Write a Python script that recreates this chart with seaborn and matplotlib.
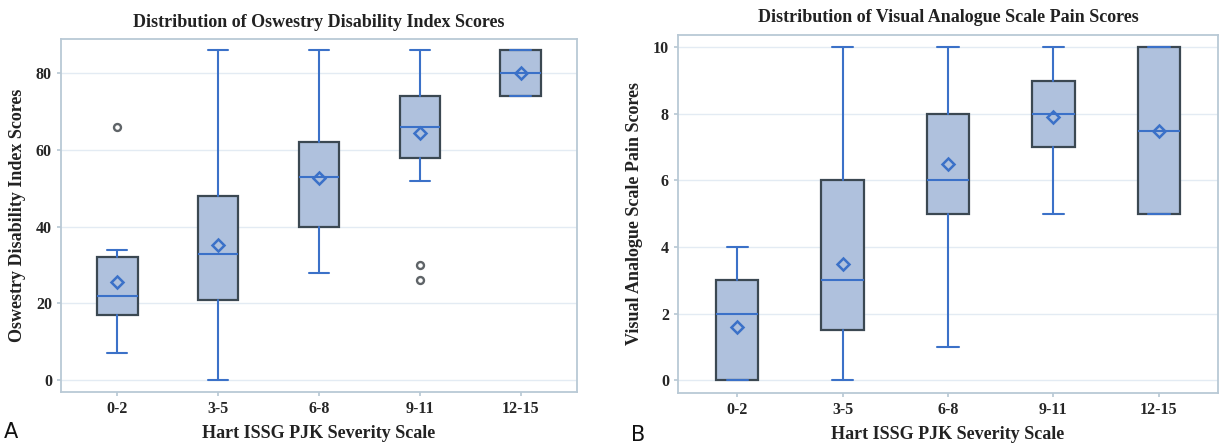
"""
    Box plots of ODI and VAS scores by Hart ISSG PJK severity group
"""

import matplotlib
matplotlib.use("Agg")
import matplotlib.pyplot as plt
import seaborn as sns

groups = ["0-2", "3-5", "6-8", "9-11", "12-15"]

# Oswestry Disability Index summary stats per group
odi_low = [7, 0, 28, 52, 74]
odi_q1 = [17, 21, 40, 58, 74]
odi_med = [22, 33, 53, 66, 80]
odi_q3 = [32, 48, 62, 74, 86]
odi_high = [34, 86, 86, 86, 86]
odi_mean = [25.7, 35.3, 52.7, 64.3, 80]
odi_outliers = [[66], [], [], [30, 26], []]

# Visual Analogue Scale pain summary stats per group
vas_low = [0, 0, 1, 5, 5]
vas_q1 = [0, 1.5, 5, 7, 5]
vas_med = [2, 3, 6, 8, 7.5]
vas_q3 = [3, 6, 8, 9, 10]
vas_high = [4, 10, 10, 10, 10]
vas_mean = [1.6, 3.5, 6.5, 7.9, 7.5]
vas_outliers = [[], [], [], [], []]

BLUE = "#3b71c8"
FILL = "#afc1dd"
EDGE = "#3b4852"
FRAME = "#b9c9d5"
SERIF = "Liberation Serif"


def build_stats(low, q1, med, q3, high, mean, fliers):
    stats = []
    for i, g in enumerate(groups):
        stats.append(dict(label=g, whislo=low[i], q1=q1[i], med=med[i],
                          q3=q3[i], whishi=high[i], mean=mean[i],
                          fliers=fliers[i]))
    return stats


def draw_panel(ax, stats, title, ylabel, ylim, yticks):
    ax.bxp(stats, positions=range(len(groups)), widths=0.4, capwidths=0.2,
           patch_artist=True, showmeans=True,
           boxprops=dict(facecolor=FILL, edgecolor=EDGE, linewidth=1.6),
           whiskerprops=dict(color=BLUE, linewidth=1.5),
           capprops=dict(color=BLUE, linewidth=1.5),
           medianprops=dict(color=BLUE, linewidth=1.5),
           meanprops=dict(marker="D", markerfacecolor="none",
                          markeredgecolor=BLUE, markersize=6.5,
                          markeredgewidth=1.8),
           flierprops=dict(marker="o", markerfacecolor="none",
                           markeredgecolor="#5f6468", markersize=5,
                           markeredgewidth=1.7))
    ax.set_xlim(-0.56, len(groups) - 0.44)
    ax.set_ylim(*ylim)
    ax.set_yticks(yticks)
    ax.set_xticks(range(len(groups)))
    ax.set_xticklabels(groups)
    ax.yaxis.grid(True, color="#e3ebf3", linewidth=1.0)
    ax.xaxis.grid(False)
    ax.set_axisbelow(True)
    for s in ax.spines.values():
        s.set_visible(True)
        s.set_color(FRAME)
        s.set_linewidth(1.3)
    ax.tick_params(axis="both", length=3, color=FRAME, labelsize=11.5,
                   labelcolor="#262626", bottom=True, left=True)
    for lab in ax.get_xticklabels() + ax.get_yticklabels():
        lab.set_family(SERIF)
        lab.set_fontweight("bold")
    ax.set_title(title, family=SERIF, fontsize=13, fontweight="bold",
                 color="#222222", pad=9)
    ax.set_xlabel("Hart ISSG PJK Severity Scale", family=SERIF, fontsize=13,
                  fontweight="bold", color="#222222", labelpad=6)
    ax.set_ylabel(ylabel, family=SERIF, fontsize=13, fontweight="bold",
                  color="#222222", labelpad=7)


sns.set_theme(style="white")
fig = plt.figure(figsize=(12.19, 4.45), dpi=100)
ax1 = fig.add_axes([0.050, 0.119, 0.4233, 0.7933])
ax2 = fig.add_axes([0.5562, 0.117, 0.4430, 0.8044])

draw_panel(ax1, build_stats(odi_low, odi_q1, odi_med, odi_q3, odi_high,
                            odi_mean, odi_outliers),
           "Distribution of Oswestry Disability Index Scores",
           "Oswestry Disability Index Scores", (-3.1, 88.9), [0, 20, 40, 60, 80])
draw_panel(ax2, build_stats(vas_low, vas_q1, vas_med, vas_q3, vas_high,
                            vas_mean, vas_outliers),
           "Distribution of Visual Analogue Scale Pain Scores",
           "Visual Analogue Scale Pain Scores", (-0.38, 10.37),
           [0, 2, 4, 6, 8, 10])

fig.text(0.003, 0.015, "A", fontsize=15, family="DejaVu Sans", color="#111111")
fig.text(0.518, 0.01, "B", fontsize=15, family="DejaVu Sans", color="#111111")

fig.savefig("out.png", dpi=100)
